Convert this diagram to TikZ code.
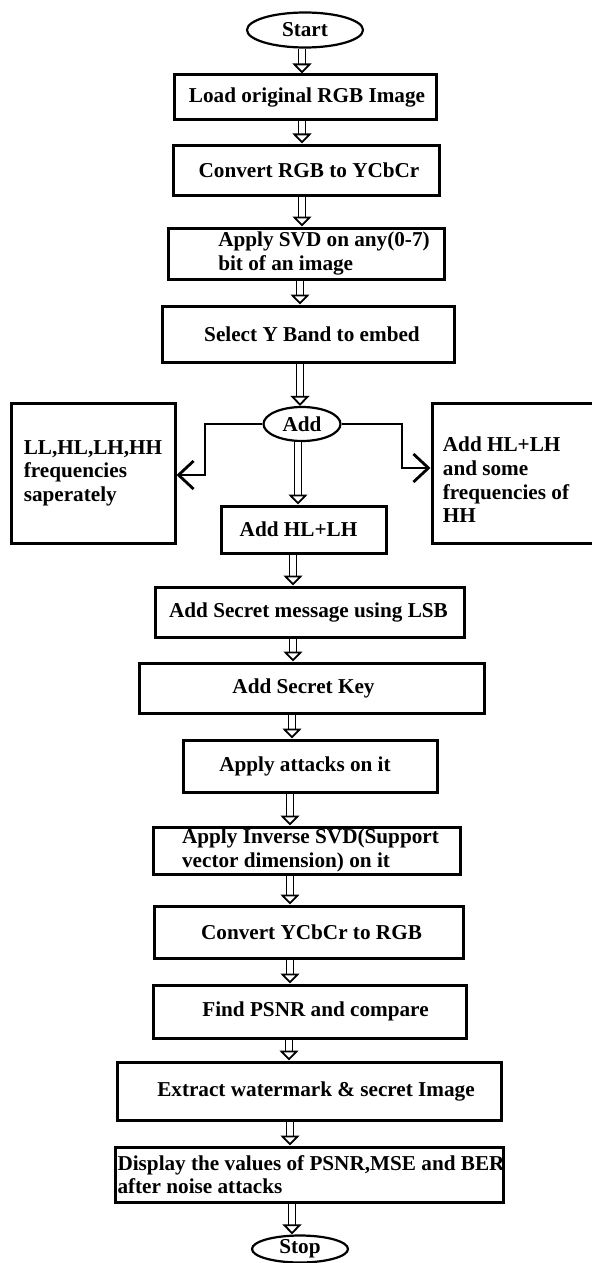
\documentclass[tikz,border=0pt]{standalone}
\usepackage{fontspec}
\setmainfont{Liberation Serif}
\usepackage{tikz}
\usetikzlibrary{positioning}
\usetikzlibrary{shapes.geometric}
\usetikzlibrary{arrows.meta}
\tikzset{
    box/.style={draw, line width=1.5pt, inner sep=0pt},
    boxtext/.style={font=\fontsize{10.6}{11.8}\selectfont\bfseries, align=left, inner sep=0pt},
    terminal/.style={draw, ellipse, line width=1.1pt, inner sep=0pt, font=\fontsize{10.6}{12}\selectfont\bfseries},
    dbl/.style={double, double distance=2.6pt, line width=0.9pt, -{Triangle[open, length=5pt, width=9.5pt]}},
    side/.style={line width=1.4pt, -{Straight Barb[length=7.5pt, width=14pt]}}
}
\newcommand{\flowbox}[7]{ % Takes name, left, top, right, bottom, text shift, text as arguments
    \node [box, minimum width={(#4-#2)*0.5pt}, minimum height={(#5-#3)*0.5pt}, label={[boxtext, shift={(#6)}]center:{#7}}] (#1) at ({(#2+#4)/2}, {(#3+#5)/2}) {};
}
\newcommand{\flowarrow}[3]{ % Takes upper node, lower node, x of the arrow
    \draw[dbl] (#3,0 |- #1.south) -- (#3,0 |- #2.north);
}
\begin{document}
\begin{tikzpicture}[x=0.5pt, y=-0.5pt]
    \useasboundingbox (0,0) rectangle (592,1263);

    % Terminals
    \node[terminal, minimum width=58pt, minimum height=17.5pt] (start) at (305,30) {Start};
    \node[terminal, minimum width=48pt, minimum height=13.5pt] (stop) at (300,1249) {Stop};
    \node[terminal, minimum width=38.5pt, minimum height=17pt] (add) at (302,424) {Add};

    % Steps
    \flowbox{load}{174}{75}{436}{120}{2,0}{Load original RGB Image}
    \flowbox{ycbcr}{173}{145}{439}{195}{3,0}{Convert RGB to YCbCr}
    \flowbox{svd}{168}{228}{444}{279}{18,0}{Apply SVD on any(0-7)\\bit of an image}
    \flowbox{band}{162}{306}{454}{362}{4,0}{Select Y Band to embed}
    \flowbox{allbands}{11}{403}{175}{543}{0,0}{LL,HL,LH,HH\\frequencies\\saperately}
    \flowbox{somehh}{432}{403}{596}{543}{-8,7}{Add HL+LH\\and some\\frequencies of\\HH}
    \flowbox{hllh}{221}{506}{386}{553}{-5,0}{Add HL+LH}
    \flowbox{lsb}{155}{587}{464}{637}{-1,0}{Add Secret message using LSB}
    \flowbox{key}{139}{663}{484}{713}{-8,0}{Add Secret Key}
    \flowbox{attacks}{183}{740}{437}{792}{-5,0}{Apply attacks on it}
    \flowbox{isvd}{153}{827}{460}{874}{4,0}{Apply Inverse SVD(Support\\vector dimension) on it}
    \flowbox{rgb}{154}{906}{463}{958}{3,0}{Convert YCbCr to RGB}
    \flowbox{psnr}{153}{985}{466}{1038}{6,0}{Find PSNR and compare}
    \flowbox{extract}{117}{1062}{501}{1120}{7,0}{Extract watermark \& secret Image}
    \flowbox{display}{115}{1147}{503}{1202}{2,0}{Display the values of PSNR,MSE and BER\\after noise attacks}

    % Main flow
    \flowarrow{start}{load}{302}
    \flowarrow{load}{ycbcr}{302}
    \flowarrow{ycbcr}{svd}{302}
    \flowarrow{svd}{band}{300}
    \flowarrow{band}{add}{300}
    \flowarrow{add}{hllh}{298}
    \flowarrow{hllh}{lsb}{293}
    \flowarrow{lsb}{key}{293}
    \flowarrow{key}{attacks}{292}
    \flowarrow{attacks}{isvd}{290}
    \flowarrow{isvd}{rgb}{290}
    \flowarrow{rgb}{psnr}{290}
    \flowarrow{psnr}{extract}{289}
    \flowarrow{extract}{display}{290}
    \flowarrow{display}{stop}{292}

    % Side branches
    \coordinate (lturn) at (205,475);
    \coordinate (rturn) at (402,468);
    \draw[side] (add.west) -| (lturn) -- (lturn -| allbands.east);
    \draw[side] (add.east) -| (rturn) -- (rturn -| somehh.west);
\end{tikzpicture}
\end{document}
